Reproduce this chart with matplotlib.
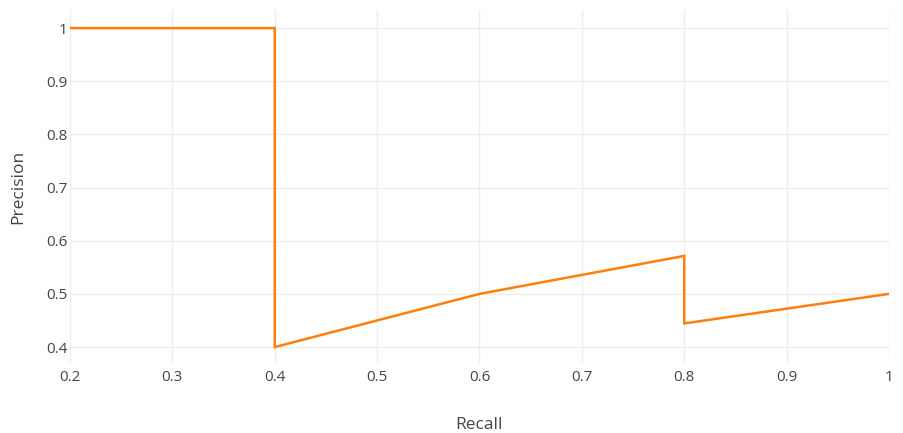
import matplotlib
matplotlib.use("Agg")
from matplotlib import pyplot as plt

recall = [0.2, 0.4, 0.4, 0.6, 0.8, 0.8, 1.0]
precision = [1.0, 1.0, 0.4, 0.5, 4 / 7, 4 / 9, 0.5]
xticks = [0.2, 0.3, 0.4, 0.5, 0.6, 0.7, 0.8, 0.9, 1.0]
xtick_labels = ["0.2", "0.3", "0.4", "0.5", "0.6", "0.7", "0.8", "0.9", "1"]
yticks = [0.4, 0.5, 0.6, 0.7, 0.8, 0.9, 1.0]
ytick_labels = ["0.4", "0.5", "0.6", "0.7", "0.8", "0.9", "1"]

plt.rcParams['font.family'] = ['Open Sans', 'DejaVu Sans']
text_col = '#444444'

fig = plt.figure(figsize=(9.04, 4.33), dpi=100)
ax = fig.add_axes([70 / 904, 70 / 433, 819 / 904, 353 / 433])

ax.plot(recall, precision, color='#ff7f0e', linewidth=1.8, solid_joinstyle='miter')

ax.set_xlim(0.2, 1.0)
ax.set_ylim(0.37, 1.034)
ax.set_xticks(xticks)
ax.set_xticklabels(xtick_labels)
ax.set_yticks(yticks)
ax.set_yticklabels(ytick_labels)
ax.tick_params(length=0, labelsize=11, labelcolor=text_col)
ax.tick_params(axis='x', pad=5)
ax.tick_params(axis='y', pad=2)
ax.grid(True, color='#eeeeee', linewidth=1)
ax.set_axisbelow(True)
for s in ax.spines.values():
    s.set_visible(False)

ax.set_xlabel('Recall', fontsize=12.5, color=text_col, labelpad=23)
ax.set_ylabel('Precision', fontsize=12.5, color=text_col, labelpad=14)

plt.savefig("out.png", dpi=100)
